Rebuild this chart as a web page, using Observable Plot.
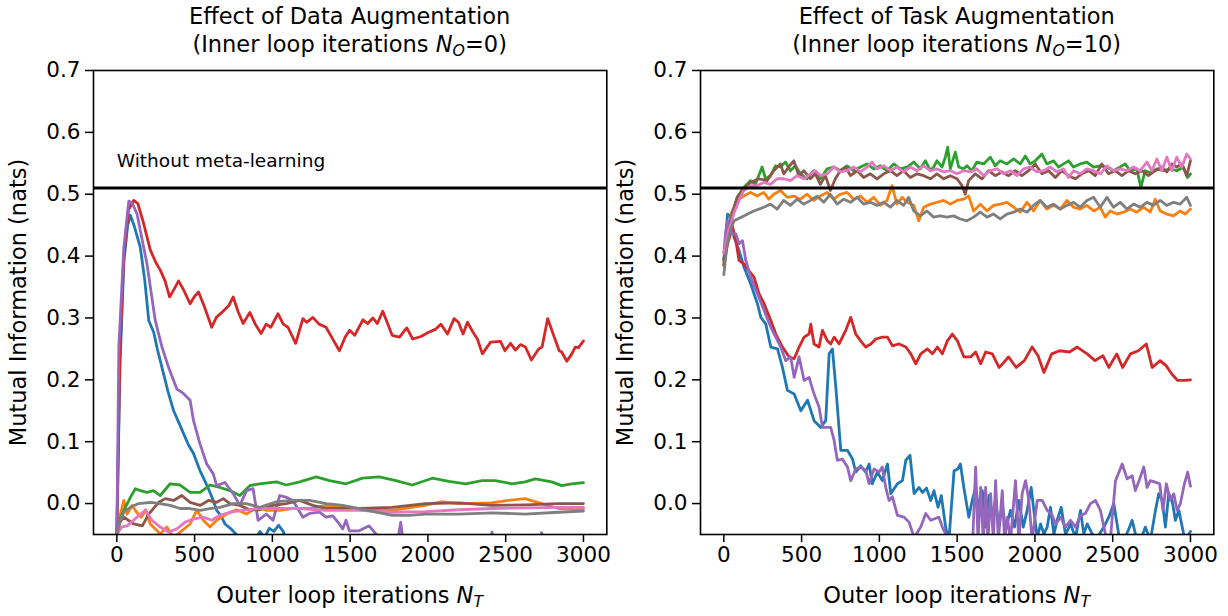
<!DOCTYPE html>
<html>
<head>
<meta charset="utf-8">
<script src="https://cdn.jsdelivr.net/npm/d3@7"></script>
<script src="https://cdn.jsdelivr.net/npm/@observablehq/plot@0.6"></script>
<style>
  html, body { margin: 0; padding: 0; background: #fff; }
  #wrap { position: relative; width: 1228px; height: 616px; font-family: "DejaVu Sans", sans-serif; color: #000; }
  .panel { position: absolute; top: 0; }
  .ttl { position: absolute; width: 600px; text-align: center; font-size: 22.5px; line-height: 28px; white-space: nowrap; }
  .xl { position: absolute; width: 600px; text-align: center; font-size: 22.5px; white-space: nowrap; }
  sub { font-size: 0.7em; vertical-align: -0.25em; line-height: 0; }
</style>
</head>
<body>
<div id="wrap"></div>
<script>
// ---------------- DATA ----------------
const titlesLeft = ["Effect of Data Augmentation", "(Inner loop iterations ", "N", "O", "=0)"];
const titlesRight = ["Effect of Task Augmentation", "(Inner loop iterations ", "N", "O", "=10)"];
const xLabel = ["Outer loop iterations ", "N", "T"];
const yLabel = "Mutual Information (nats)";
const baselineLabel = "Without meta-learning";
const baselineValue = 0.51;
const xTicks = [0, 500, 1000, 1500, 2000, 2500, 3000];
const yTicks = [0, 0.1, 0.2, 0.3, 0.4, 0.5, 0.6, 0.7];
const colors = ["#1f77b4", "#ff7f0e", "#2ca02c", "#d62728", "#9467bd", "#8c564b", "#e377c2", "#7f7f7f"];

// Left panel (data augmentation, N_O = 0)
const leftBlue = [[0,-0.05],[20,0.22],[45,0.39],[70,0.45],[87,0.466],[110,0.45],[151,0.414],[180,0.36],[205,0.296],[237,0.277],[260,0.25],[290,0.22],[330,0.18],[365,0.15],[400,0.13],[429,0.113],[460,0.095],[493,0.081],[535,0.053],[560,0.04],[589,0.024],[620,0.005],[642,-0.011],[670,-0.02],[695,-0.033],[730,-0.04],[768,-0.05],[820,-0.07],[880,-0.06],[920,-0.045],[950,-0.055],[980,-0.04],[1010,-0.045],[1040,-0.035],[1070,-0.045],[1100,-0.07],[1200,-0.1],[3000,-0.1]];
const leftOrange = [[0,-0.05],[20,-0.02],[45,0.005],[66,-0.017],[98,-0.003],[130,-0.015],[157,-0.022],[186,-0.01],[215,-0.033],[247,-0.041],[279,-0.049],[321,-0.038],[365,-0.055],[418,-0.044],[471,-0.033],[514,-0.011],[556,-0.027],[599,-0.038],[642,-0.027],[706,-0.017],[770,-0.01],[834,-0.017],[898,-0.006],[961,-0.011],[1047,-0.011],[1132,-0.008],[1239,-0.008],[1345,-0.003],[1474,-0.005],[1560,-0.008],[1770,-0.011],[1980,-0.003],[2090,0.003],[2200,0.0],[2410,0.001],[2520,0.005],[2625,0.008],[2730,0.0],[2840,-0.008],[3000,-0.008]];
const leftGreen = [[0,-0.05],[20,-0.025],[45,-0.011],[87,0.01],[119,0.024],[151,0.021],[194,0.018],[236,0.021],[279,0.013],[343,0.032],[407,0.03],[471,0.018],[535,0.018],[599,0.03],[663,0.026],[727,0.021],[791,0.013],[855,0.029],[919,0.032],[1026,0.035],[1090,0.03],[1175,0.035],[1282,0.043],[1367,0.037],[1474,0.032],[1580,0.041],[1687,0.043],[1794,0.037],[1900,0.03],[2028,0.041],[2135,0.036],[2242,0.032],[2348,0.037],[2433,0.037],[2540,0.032],[2625,0.035],[2689,0.04],[2796,0.035],[2860,0.029],[2924,0.032],[3000,0.034]];
const leftRed = [[0,-0.05],[20,0.25],[45,0.4],[75,0.475],[109,0.49],[135,0.485],[170,0.455],[215,0.41],[250,0.39],[280,0.377],[310,0.36],[339,0.334],[365,0.345],[397,0.36],[430,0.345],[471,0.323],[500,0.335],[525,0.342],[560,0.32],[610,0.285],[640,0.301],[680,0.31],[720,0.32],[748,0.334],[780,0.31],[812,0.291],[855,0.309],[890,0.29],[928,0.275],[960,0.29],[990,0.285],[1036,0.307],[1070,0.29],[1100,0.285],[1150,0.259],[1196,0.299],[1220,0.293],[1260,0.301],[1300,0.29],[1345,0.285],[1390,0.265],[1431,0.247],[1470,0.27],[1497,0.28],[1529,0.272],[1582,0.297],[1613,0.291],[1646,0.3],[1675,0.291],[1710,0.311],[1770,0.272],[1817,0.269],[1864,0.284],[1902,0.266],[1955,0.27],[1998,0.276],[2051,0.282],[2083,0.29],[2126,0.274],[2168,0.299],[2196,0.293],[2226,0.274],[2254,0.293],[2290,0.277],[2318,0.266],[2350,0.242],[2403,0.261],[2467,0.262],[2495,0.247],[2531,0.259],[2563,0.248],[2595,0.257],[2627,0.253],[2665,0.232],[2712,0.25],[2734,0.253],[2770,0.299],[2808,0.272],[2844,0.247],[2860,0.245],[2893,0.23],[2925,0.242],[2947,0.253],[2968,0.252],[3000,0.263]];
const leftPurple = [[0,-0.05],[13,0.253],[45,0.414],[77,0.489],[100,0.485],[130,0.468],[160,0.43],[194,0.387],[247,0.296],[290,0.253],[333,0.22],[386,0.185],[428,0.178],[471,0.167],[493,0.134],[535,0.096],[578,0.064],[620,0.048],[642,0.029],[695,0.034],[748,0.016],[791,-0.003],[834,0.021],[876,0.024],[908,-0.027],[961,-0.017],[1004,-0.027],[1047,0.013],[1090,0.01],[1132,0.005],[1196,-0.022],[1239,-0.016],[1303,-0.014],[1345,-0.022],[1388,-0.02],[1431,-0.033],[1452,-0.041],[1473,-0.027],[1495,-0.044],[1558,-0.044],[1622,-0.036],[1665,-0.049],[1700,-0.07],[1800,-0.07],[1825,-0.03],[1845,-0.07],[2390,-0.07],[2412,-0.046],[2430,-0.07],[2710,-0.07],[2731,-0.047],[2750,-0.07],[3000,-0.07]];
const leftBrown = [[0,-0.05],[20,-0.03],[45,-0.022],[109,-0.033],[164,-0.036],[205,-0.017],[269,0.002],[311,0.008],[365,0.005],[418,0.013],[471,0.002],[535,-0.003],[589,0.005],[642,0.002],[684,0.008],[727,0.0],[791,-0.003],[855,-0.01],[919,-0.01],[1004,-0.003],[1090,0.0],[1175,0.005],[1260,-0.003],[1345,-0.008],[1474,-0.008],[1560,-0.008],[1770,-0.006],[1985,0.0],[2200,0.001],[2410,-0.003],[2625,-0.002],[2840,0.0],[3000,0.0]];
const leftPink = [[0,-0.05],[31,-0.038],[66,-0.036],[130,-0.022],[183,-0.011],[226,-0.027],[279,-0.038],[333,-0.046],[386,-0.041],[439,-0.03],[493,-0.025],[556,-0.022],[610,-0.027],[663,-0.019],[727,-0.014],[812,-0.011],[919,-0.008],[1047,-0.008],[1175,-0.008],[1345,-0.011],[1474,-0.011],[1560,-0.011],[1770,-0.014],[1985,-0.013],[2200,-0.01],[2410,-0.008],[2625,-0.007],[2840,-0.006],[3000,-0.006]];
const leftGray = [[0,-0.05],[20,-0.03],[45,-0.014],[87,-0.006],[140,0.0],[216,0.002],[279,0.0],[343,-0.003],[407,-0.008],[471,-0.008],[535,-0.011],[599,-0.008],[663,-0.006],[749,0.0],[834,0.0],[919,-0.006],[1026,0.003],[1132,0.005],[1239,0.005],[1345,0.0],[1452,-0.003],[1558,-0.008],[1665,-0.014],[1772,-0.019],[1878,-0.019],[1985,-0.017],[2199,-0.017],[2412,-0.015],[2625,-0.017],[2838,-0.014],[3000,-0.012]];

// Right panel (task augmentation, N_O = 10)
const rightBlue = [[0,0.393],[24,0.468],[45,0.463],[66,0.43],[98,0.409],[130,0.382],[173,0.355],[216,0.323],[238,0.301],[270,0.29],[302,0.253],[345,0.25],[377,0.22],[409,0.183],[452,0.177],[495,0.15],[538,0.167],[580,0.134],[623,0.123],[655,0.134],[677,0.242],[698,0.25],[720,0.188],[752,0.086],[795,0.086],[827,0.072],[848,0.051],[880,0.061],[912,0.051],[934,0.064],[955,0.032],[987,0.051],[1019,0.037],[1052,0.064],[1073,0.016],[1116,0.032],[1148,0.037],[1170,0.07],[1197,0.078],[1223,0.016],[1255,0.026],[1277,0.018],[1303,0.025],[1330,0.005],[1351,0.021],[1377,-0.006],[1398,0.013],[1426,-0.038],[1447,-0.06],[1480,0.053],[1505,0.056],[1521,0.064],[1543,0.026],[1575,-0.022],[1597,0.005],[1619,0.026],[1640,-0.011],[1662,0.021],[1683,-0.038],[1704,0.013],[1726,-0.022],[1747,0.005],[1769,-0.038],[1790,0.0],[1811,-0.043],[1843,-0.011],[1869,-0.038],[1897,0.005],[1925,-0.038],[1950,-0.011],[1976,0.026],[1993,-0.011],[2015,-0.055],[2036,-0.033],[2058,-0.049],[2079,-0.038],[2100,-0.006],[2122,-0.05],[2143,-0.027],[2169,-0.006],[2197,-0.05],[2229,-0.033],[2261,-0.055],[2293,-0.011],[2314,-0.049],[2336,-0.033],[2368,-0.049],[2400,-0.055],[2443,-0.038],[2475,-0.022],[2507,0.0],[2539,-0.05],[2571,-0.06],[2604,-0.041],[2625,-0.027],[2646,-0.049],[2678,-0.06],[2710,-0.038],[2742,-0.06],[2775,-0.011],[2796,0.016],[2818,0.005],[2839,-0.038],[2860,0.016],[2882,0.005],[2903,-0.027],[2925,-0.011],[2957,-0.05],[2978,-0.055],[3000,-0.045]];
const rightOrange = [[0,0.39],[20,0.43],[50,0.47],[86,0.49],[128,0.497],[171,0.503],[214,0.497],[257,0.503],[289,0.492],[321,0.5],[364,0.506],[407,0.495],[450,0.497],[492,0.492],[535,0.5],[578,0.49],[621,0.497],[664,0.503],[707,0.492],[749,0.5],[792,0.503],[835,0.492],[878,0.497],[921,0.487],[964,0.495],[1006,0.482],[1049,0.49],[1081,0.514],[1113,0.484],[1146,0.495],[1178,0.487],[1221,0.482],[1253,0.457],[1285,0.479],[1328,0.484],[1370,0.487],[1413,0.49],[1456,0.484],[1499,0.49],[1542,0.492],[1574,0.497],[1606,0.473],[1649,0.484],[1692,0.473],[1734,0.482],[1777,0.484],[1820,0.487],[1863,0.479],[1906,0.471],[1949,0.487],[1991,0.473],[2034,0.49],[2077,0.476],[2120,0.482],[2163,0.476],[2206,0.49],[2248,0.479],[2291,0.476],[2334,0.482],[2377,0.473],[2420,0.479],[2452,0.463],[2484,0.473],[2527,0.468],[2570,0.471],[2612,0.476],[2655,0.471],[2698,0.479],[2741,0.471],[2773,0.492],[2805,0.473],[2848,0.468],[2891,0.465],[2934,0.473],[2966,0.468],[3000,0.476]];
const rightGreen = [[0,0.385],[20,0.42],[45,0.46],[86,0.495],[128,0.511],[171,0.522],[203,0.516],[246,0.544],[268,0.525],[300,0.53],[332,0.546],[364,0.544],[396,0.552],[428,0.538],[460,0.546],[492,0.533],[535,0.525],[578,0.538],[621,0.525],[664,0.541],[707,0.544],[749,0.538],[792,0.546],[835,0.538],[878,0.544],[921,0.549],[964,0.541],[1006,0.546],[1049,0.538],[1092,0.549],[1135,0.541],[1178,0.544],[1221,0.552],[1263,0.541],[1296,0.554],[1328,0.538],[1349,0.544],[1370,0.554],[1403,0.544],[1424,0.56],[1439,0.576],[1456,0.541],[1488,0.568],[1510,0.544],[1542,0.541],[1563,0.546],[1595,0.538],[1627,0.552],[1670,0.549],[1713,0.56],[1745,0.546],[1777,0.554],[1820,0.549],[1863,0.557],[1906,0.549],[1938,0.562],[1970,0.549],[2002,0.554],[2045,0.565],[2077,0.549],[2120,0.554],[2152,0.544],[2184,0.549],[2216,0.554],[2248,0.544],[2291,0.549],[2334,0.552],[2377,0.544],[2420,0.546],[2463,0.544],[2505,0.538],[2548,0.544],[2580,0.549],[2612,0.538],[2655,0.541],[2681,0.511],[2709,0.538],[2741,0.535],[2784,0.541],[2827,0.538],[2869,0.541],[2912,0.538],[2955,0.544],[2981,0.527],[3000,0.533]];
const rightRed = [[0,0.385],[24,0.42],[56,0.447],[77,0.425],[98,0.393],[130,0.387],[162,0.376],[194,0.366],[227,0.339],[259,0.323],[302,0.296],[334,0.274],[377,0.253],[420,0.237],[452,0.234],[484,0.253],[516,0.269],[548,0.274],[559,0.29],[580,0.258],[612,0.253],[634,0.28],[666,0.263],[687,0.258],[709,0.269],[741,0.258],[784,0.28],[816,0.301],[848,0.274],[880,0.263],[912,0.253],[945,0.258],[977,0.266],[1019,0.269],[1052,0.269],[1084,0.255],[1127,0.258],[1170,0.253],[1202,0.242],[1234,0.226],[1266,0.242],[1309,0.25],[1341,0.242],[1373,0.253],[1405,0.242],[1437,0.263],[1469,0.274],[1502,0.263],[1544,0.237],[1587,0.237],[1619,0.245],[1651,0.226],[1683,0.245],[1726,0.242],[1769,0.22],[1800,0.228],[1830,0.237],[1880,0.22],[1932,0.231],[1982,0.253],[2020,0.239],[2058,0.212],[2108,0.242],[2159,0.247],[2222,0.245],[2272,0.253],[2336,0.242],[2386,0.231],[2437,0.239],[2475,0.22],[2526,0.242],[2564,0.22],[2614,0.242],[2665,0.247],[2716,0.258],[2754,0.22],[2805,0.231],[2843,0.223],[2881,0.209],[2918,0.199],[2969,0.199],[3000,0.2]];
const rightPurple = [[0,0.405],[13,0.441],[24,0.457],[56,0.436],[77,0.436],[98,0.42],[120,0.425],[141,0.393],[173,0.366],[216,0.339],[259,0.312],[302,0.285],[334,0.269],[366,0.253],[398,0.231],[430,0.237],[452,0.204],[484,0.237],[516,0.199],[548,0.204],[580,0.177],[612,0.156],[634,0.123],[666,0.123],[687,0.123],[709,0.102],[730,0.07],[762,0.072],[795,0.059],[816,0.037],[848,0.056],[880,0.059],[912,0.054],[934,0.032],[966,0.056],[998,0.051],[1019,0.059],[1041,0.026],[1062,0.005],[1084,0.011],[1116,-0.019],[1159,-0.022],[1191,-0.03],[1223,-0.055],[1266,-0.038],[1298,-0.016],[1330,-0.027],[1351,-0.025],[1383,-0.022],[1405,-0.038],[1437,-0.055],[1600,-0.06],[1619,0.059],[1634,-0.06],[1651,0.026],[1668,-0.06],[1683,0.026],[1698,-0.06],[1715,0.016],[1733,-0.06],[1747,0.037],[1765,-0.06],[1790,0.021],[1805,-0.06],[1822,-0.022],[1843,-0.06],[1875,0.037],[1897,-0.06],[1918,0.016],[1940,0.037],[1961,0.005],[1982,-0.06],[2015,0.005],[2047,0.005],[2079,-0.011],[2111,-0.019],[2133,-0.033],[2165,-0.022],[2197,-0.038],[2229,-0.027],[2261,-0.038],[2293,-0.019],[2325,-0.016],[2357,0.0],[2389,0.005],[2421,-0.011],[2453,-0.049],[2486,-0.055],[2518,0.037],[2561,0.064],[2593,0.04],[2625,0.045],[2646,0.021],[2674,0.04],[2700,0.059],[2721,0.026],[2742,0.037],[2768,0.035],[2802,0.032],[2823,-0.011],[2845,0.032],[2871,0.005],[2893,0.016],[2914,-0.011],[2935,0.0],[2961,0.032],[2982,0.051],[3000,0.028]];
const rightBrown = [[0,0.395],[25,0.43],[55,0.47],[86,0.495],[128,0.508],[171,0.519],[225,0.525],[278,0.522],[321,0.538],[364,0.549],[385,0.533],[417,0.544],[450,0.554],[482,0.53],[514,0.538],[557,0.525],[589,0.533],[621,0.516],[653,0.53],[685,0.506],[717,0.525],[749,0.538],[782,0.544],[814,0.53],[857,0.538],[899,0.527],[942,0.533],[985,0.525],[1028,0.533],[1071,0.538],[1113,0.53],[1156,0.538],[1199,0.527],[1242,0.533],[1285,0.53],[1328,0.525],[1370,0.533],[1413,0.525],[1456,0.53],[1499,0.525],[1531,0.514],[1552,0.5],[1574,0.522],[1617,0.533],[1660,0.525],[1702,0.538],[1745,0.53],[1788,0.536],[1831,0.53],[1874,0.538],[1916,0.53],[1959,0.538],[2002,0.549],[2045,0.533],[2088,0.538],[2131,0.527],[2173,0.538],[2216,0.53],[2259,0.525],[2302,0.533],[2345,0.538],[2388,0.53],[2430,0.549],[2473,0.533],[2516,0.538],[2559,0.53],[2602,0.538],[2645,0.533],[2688,0.538],[2730,0.53],[2773,0.538],[2816,0.544],[2848,0.536],[2880,0.549],[2912,0.544],[2944,0.549],[2976,0.53],[3000,0.554]];
const rightPink = [[0,0.405],[30,0.44],[66,0.47],[98,0.49],[128,0.506],[171,0.514],[214,0.514],[257,0.519],[300,0.516],[343,0.525],[385,0.525],[428,0.522],[471,0.53],[514,0.525],[557,0.533],[589,0.538],[621,0.53],[664,0.533],[707,0.544],[749,0.536],[792,0.538],[835,0.544],[878,0.536],[921,0.544],[953,0.552],[985,0.541],[1028,0.546],[1071,0.538],[1113,0.544],[1156,0.536],[1199,0.544],[1242,0.538],[1285,0.546],[1328,0.538],[1370,0.541],[1413,0.536],[1456,0.538],[1499,0.533],[1542,0.538],[1585,0.536],[1627,0.541],[1670,0.53],[1713,0.538],[1756,0.541],[1799,0.533],[1842,0.538],[1884,0.53],[1927,0.541],[1970,0.544],[2013,0.536],[2056,0.538],[2098,0.544],[2141,0.536],[2184,0.541],[2216,0.527],[2248,0.538],[2291,0.533],[2334,0.541],[2377,0.538],[2420,0.533],[2463,0.546],[2505,0.538],[2548,0.541],[2591,0.538],[2634,0.544],[2677,0.538],[2720,0.552],[2752,0.538],[2784,0.557],[2816,0.538],[2848,0.56],[2880,0.538],[2912,0.56],[2944,0.544],[2976,0.565],[3000,0.557]];
const rightGray = [[0,0.37],[21,0.42],[45,0.445],[66,0.457],[128,0.465],[193,0.473],[257,0.479],[300,0.484],[343,0.476],[385,0.49],[428,0.482],[471,0.492],[514,0.484],[557,0.49],[600,0.497],[642,0.487],[685,0.5],[728,0.484],[771,0.492],[814,0.487],[857,0.495],[899,0.484],[942,0.487],[985,0.482],[1028,0.487],[1071,0.479],[1113,0.49],[1156,0.482],[1188,0.495],[1221,0.473],[1263,0.465],[1306,0.473],[1349,0.463],[1392,0.465],[1435,0.463],[1478,0.465],[1520,0.46],[1563,0.457],[1606,0.463],[1649,0.471],[1692,0.463],[1734,0.468],[1777,0.46],[1820,0.468],[1863,0.471],[1906,0.476],[1949,0.471],[1991,0.482],[2034,0.49],[2077,0.479],[2120,0.484],[2163,0.476],[2206,0.482],[2248,0.487],[2291,0.479],[2334,0.49],[2377,0.495],[2420,0.479],[2463,0.495],[2505,0.479],[2548,0.487],[2591,0.476],[2634,0.484],[2677,0.479],[2720,0.487],[2762,0.482],[2805,0.49],[2848,0.482],[2891,0.487],[2934,0.484],[2976,0.495],[3000,0.482]];

const leftSeries = [leftBlue, leftOrange, leftGreen, leftRed, leftPurple, leftBrown, leftPink, leftGray];
const rightSeries = [rightBlue, rightOrange, rightGreen, rightRed, rightPurple, rightBrown, rightPink, rightGray];

// ---------------- DRAW ----------------
const FONT = "DejaVu Sans";
function panel(series, opts) {
  const marks = [];
  series.forEach((s, i) => {
    marks.push(Plot.line(s, {x: d => d[0], y: d => d[1], stroke: colors[i], strokeWidth: 2.8, clip: true}));
  });
  marks.push(Plot.ruleY([baselineValue], {stroke: "black", strokeWidth: 3}));
  if (opts.annotate) {
    marks.push(Plot.text([baselineLabel], {x: 0, y: 0.553, text: d => d, textAnchor: "start", lineAnchor: "middle", fontSize: 18.5, fill: "black"}));
  }
  marks.push(Plot.axisX({ticks: xTicks, tickSize: 8, tickPadding: 4, fontSize: 21.5, strokeWidth: 1.5, label: null, tickFormat: d => String(d)}));
  marks.push(Plot.axisY({ticks: yTicks, tickSize: 8, tickPadding: 5, fontSize: 21.5, strokeWidth: 1.5, tickFormat: d3.format(".1f"),
    label: yLabel, labelAnchor: "center", labelArrow: "none", labelOffset: 83}));
  marks.push(Plot.frame({stroke: "black", strokeWidth: 1.6}));
  return Plot.plot({
    width: 614, height: 616,
    marginLeft: opts.ml, marginRight: opts.mr, marginTop: 70, marginBottom: 82,
    x: {domain: [-150, 3150]},
    y: {domain: [-0.05, 0.7]},
    style: {fontFamily: FONT, fontSize: "22.5px", color: "black", background: "white", overflow: "visible"},
    marks
  });
}

const wrap = document.getElementById("wrap");
const left = panel(leftSeries, {ml: 93, mr: 7.7, annotate: true});
const right = panel(rightSeries, {ml: 86, mr: 14.7, annotate: false});
left.classList.add("panel"); left.style.left = "0px";
right.classList.add("panel"); right.style.left = "614px";
wrap.appendChild(left);
wrap.appendChild(right);
// y-axis label font size (axis label uses the axis fontSize; enlarge to match)
for (const svg of [left, right]) {
  svg.querySelectorAll("g[aria-label='y-axis label'] text").forEach(t => t.setAttribute("font-size", "22.5"));
}

function addTitle(t, cx) {
  const d = document.createElement("div");
  d.className = "ttl";
  d.style.left = (cx - 300) + "px";
  d.style.top = "2px";
  d.innerHTML = t[0] + "<br>" + t[1] + "<i>" + t[2] + "</i><sub><i>" + t[3] + "</i></sub>" + t[4];
  wrap.appendChild(d);
}
function addXLabel(cx) {
  const d = document.createElement("div");
  d.className = "xl";
  d.style.left = (cx - 300) + "px";
  d.style.top = "582px";
  d.innerHTML = xLabel[0] + "<i>" + xLabel[1] + "</i><sub><i>" + xLabel[2] + "</i></sub>";
  wrap.appendChild(d);
}
addTitle(titlesLeft, 349.7);
addTitle(titlesRight, 956.7);
addXLabel(349.7);
addXLabel(956.7);
</script>
</body>
</html>
